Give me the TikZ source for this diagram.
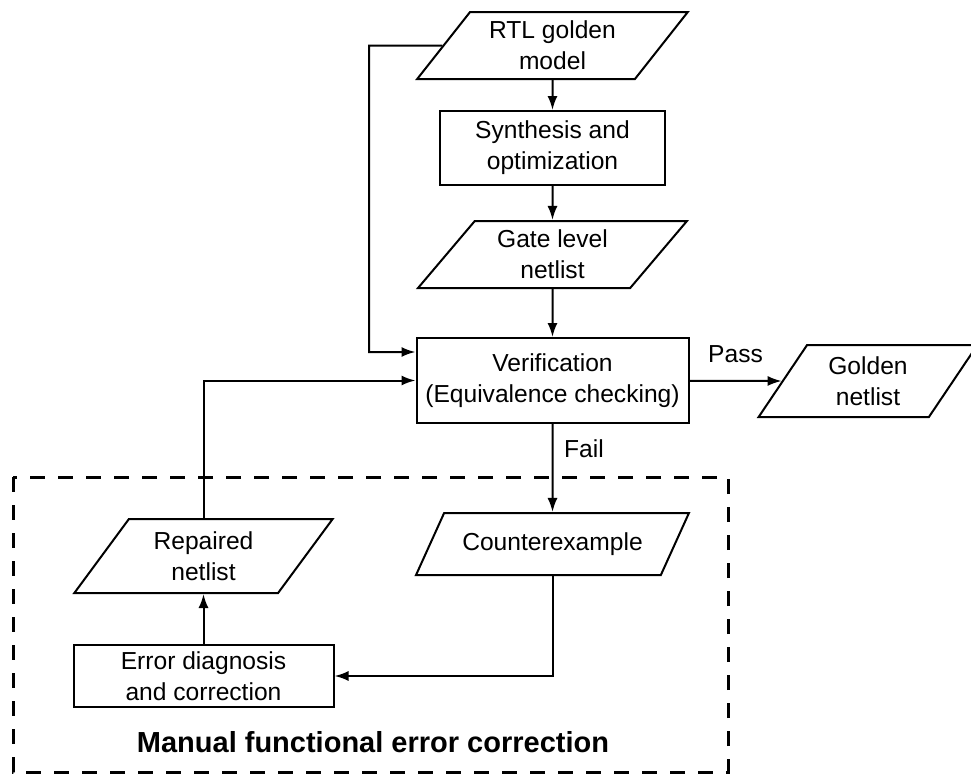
\documentclass[tikz,border=0pt]{standalone}
\usepackage{fontspec}
\setmainfont{Liberation Sans}
\usetikzlibrary{shapes.geometric}
\usetikzlibrary{arrows.meta}

\begin{document}
\begin{tikzpicture}[x=0.5pt,y=-0.5pt,line width=1pt,
        >={Latex[length=7pt,width=5pt]},
        every node/.style={font=\fontsize{12.3}{15.5}\selectfont},
        iobox/.style={draw,trapezium,trapezium left angle=#1,
            trapezium right angle={180-#1},trapezium stretches=true,
            inner sep=1pt,align=center},
        procbox/.style={draw,rectangle,inner sep=1pt,align=center}]

        \useasboundingbox (0,0) rectangle (971,777);

        \node[iobox=51.7,minimum width=135.5pt,minimum height=33.5pt]
            (rtl) at (552.5,45.5) {RTL golden\\model};
        \node[procbox,minimum width=112.5pt,minimum height=37pt]
            (synth) at (552.5,148) {Synthesis and\\optimization};
        \node[iobox=51.7,minimum width=135.5pt,minimum height=33.5pt]
            (gate) at (552.5,254.5) {Gate level\\netlist};
        \node[procbox,minimum width=136pt,minimum height=42.5pt]
            (verif) at (552.5,380.5) {Verification\\(Equivalence checking)};
        \node[iobox=58,minimum width=110pt,minimum height=36pt]
            (golden) at (868,381) {Golden\\netlist};
        \node[iobox=48.4,minimum width=136.5pt,minimum height=31pt]
            (counter) at (552.5,544) {Counterexample};
        \node[iobox=54.4,minimum width=129.5pt,minimum height=37pt]
            (repaired) at (203.5,556) {Repaired\\netlist};
        \node[procbox,minimum width=130pt,minimum height=31pt]
            (errdiag) at (203.5,676) {Error diagnosis\\and correction};

        \draw[line width=1.5pt,dash pattern=on 7.5pt off 6.5pt]
            (13,477) rectangle (728,772);
        \node[font=\bfseries\fontsize{14.5}{17}\selectfont]
            (manual) at (373,742) {Manual functional error correction};

        \coordinate (lbend) at (369,45.5);
        \coordinate (vtop) at ([yshift=14.25pt]verif.west);

        \foreach \a/\b in {rtl/synth,synth/gate,gate/verif,errdiag/repaired}
        \draw[->] (\a) -- (\b);

        \draw[->] (rtl.west) -- (lbend) |- (vtop);
        \draw[->] (repaired.north) |- (verif.west);
        \draw[->] (verif) -- node[above=5pt] (pass) {Pass} (golden.west);
        \draw[->] (verif) -- node[pos=0.28,right=2pt] (fail) {Fail} (counter);
        \draw[->] (counter.south) |- (errdiag.east);
    \end{tikzpicture}
\end{document}
